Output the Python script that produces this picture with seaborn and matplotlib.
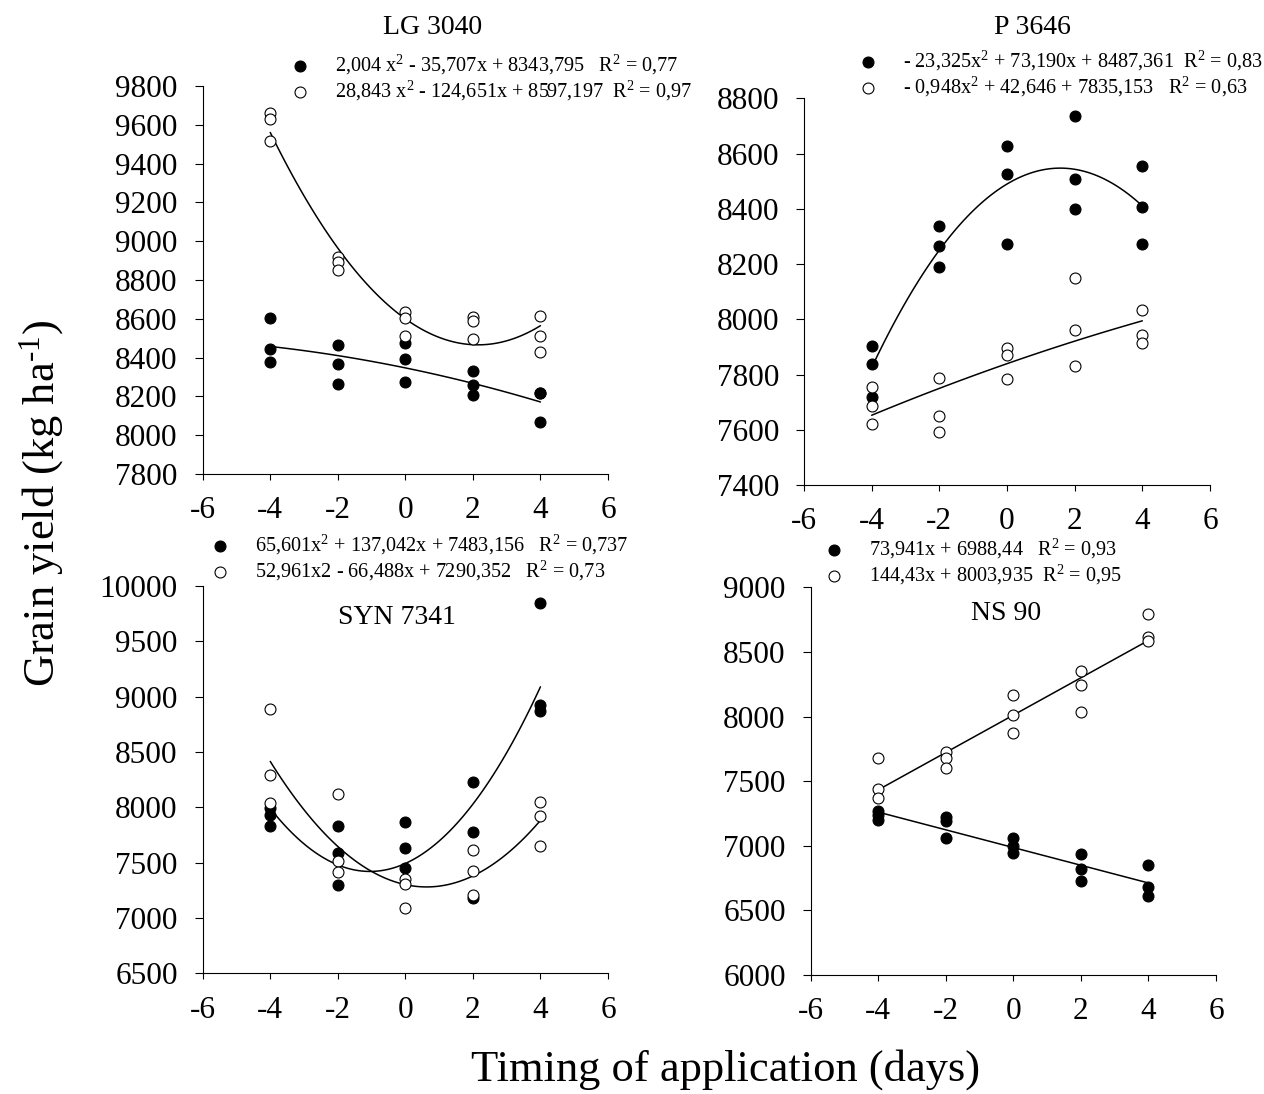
import numpy as np
import pandas as pd
import matplotlib
matplotlib.use('Agg')
import matplotlib.pyplot as plt
import seaborn as sns

sns.set_theme(style='ticks')
plt.rcParams['font.family'] = ['Liberation Serif', 'DejaVu Serif']
plt.rcParams['mathtext.default'] = 'regular'
plt.rcParams['axes.unicode_minus'] = False
plt.rcParams['text.color'] = 'black'

# timing of application (days)
timing = [-4, -2, 0, 2, 4]

# grain yield (kg/ha), three replicates per timing; filled = first series, open = second series
lg_filled = [[8602, 8443, 8376], [8467, 8368, 8264], [8477, 8394, 8274],
             [8332, 8257, 8206], [8219, 8215, 8066]]
lg_open = [[9659, 9628, 9518], [8917, 8894, 8851], [8635, 8606, 8511],
           [8611, 8589, 8494], [8614, 8511, 8429]]

p_filled = [[7904, 7839, 7718], [8338, 8266, 8189], [8628, 8526, 8272],
            [8736, 8507, 8401], [8554, 8406, 8271]]
p_open = [[7755, 7687, 7620], [7788, 7651, 7591], [7895, 7870, 7784],
          [8148, 7960, 7832], [8033, 7942, 7914]]

syn_filled = [[7990, 7931, 7831], [7831, 7590, 7298], [7870, 7630, 7449],
              [8226, 7774, 7178], [9843, 8925, 8874]]
syn_open = [[8886, 8289, 8042], [8118, 7515, 7413], [7349, 7304, 7093],
            [7614, 7422, 7208], [8048, 7922, 7651]]

ns_filled = [[7266, 7240, 7196], [7222, 7188, 7060], [7060, 6995, 6944],
             [6936, 6822, 6727], [6848, 6681, 6609]]
ns_open = [[7678, 7436, 7366], [7722, 7678, 7603], [8165, 8013, 7871],
           [8351, 8245, 8036], [8796, 8619, 8585]]

titles = ['LG 3040', 'P 3646', 'SYN 7341', 'NS 90']

lg_labels = ['2,004 x$^2$ - 35,707x + 8343,795   R$^2$ = 0,77',
             '28,843 x$^2$ - 124,651x + 8597,197  R$^2$ = 0,97']
p_labels = ['- 23,325x$^2$ + 73,190x + 8487,361  R$^2$ = 0,83',
            '- 0,948x$^2$ + 42,646 + 7835,153   R$^2$ = 0,63']
syn_labels = ['65,601x$^2$ + 137,042x + 7483,156   R$^2$ = 0,737',
              '52,961x2 - 66,488x + 7290,352   R$^2$ = 0,73']
ns_labels = ['73,941x + 6988,44   R$^2$ = 0,93',
             '144,43x + 8003,935  R$^2$ = 0,95']

W, H = 1264, 1094


def long_table(values):
    xs, ys = [], []
    for t, reps in zip(timing, values):
        for v in reps:
            xs.append(t)
            ys.append(v)
    return pd.DataFrame({'timing': xs, 'yield': ys})


def fig_rect(left, top, right, bottom):
    return [left / W, 1 - bottom / H, (right - left) / W, (bottom - top) / H]


panels = [
    dict(filled=lg_filled, open=lg_open, labels=lg_labels, order=(2, 2),
         ylim=(7800, 9800), step=200, rect=fig_rect(202.7, 86, 608, 474),
         leg=(290, 53), title=(433, 28)),
    dict(filled=p_filled, open=p_open, labels=p_labels, order=(2, 2),
         ylim=(7400, 8800), step=200, rect=fig_rect(804, 98.3, 1210, 485),
         leg=(858, 49), title=(1032, 28)),
    dict(filled=syn_filled, open=syn_open, labels=syn_labels, order=(2, 2),
         ylim=(6500, 10000), step=500, rect=fig_rect(202.7, 586, 608, 973.3),
         leg=(210, 533), title=(397, 617)),
    dict(filled=ns_filled, open=ns_open, labels=ns_labels, order=(1, 1),
         ylim=(6000, 9000), step=500, rect=fig_rect(810.7, 587.3, 1216, 975),
         leg=(824, 537), title=(1006, 614)),
]

fig = plt.figure(figsize=(W / 100, H / 100), dpi=100)

for p, title in zip(panels, titles):
    ax = fig.add_axes(p['rect'])
    series = [(p['filled'], 'black', p['labels'][0], p['order'][0]),
              (p['open'], 'white', p['labels'][1], p['order'][1])]
    for vals, face, lab, order in series:
        sns.regplot(data=long_table(vals), x='timing', y='yield', order=order,
                    ci=None, ax=ax, color='black', label=lab,
                    scatter_kws=dict(s=62, facecolors=face, edgecolors='black',
                                     linewidths=0.8, alpha=1, zorder=3),
                    line_kws=dict(lw=1.1, color='black', zorder=2))
    ax.set(xlabel='', ylabel='')
    ax.set_xlim(-6, 6)
    ax.set_xticks(range(-6, 7, 2))
    ax.set_ylim(*p['ylim'])
    ax.set_yticks(np.arange(p['ylim'][0], p['ylim'][1] + 1, p['step']))
    sns.despine(ax=ax)
    for s in ['left', 'bottom']:
        ax.spines[s].set_linewidth(0.8)
        ax.spines[s].set_color('black')
    ax.tick_params(axis='both', labelsize=22.5, colors='black', width=0.8,
                   direction='out', pad=12)
    ax.tick_params(axis='y', length=6)
    ax.tick_params(axis='x', length=4)
    leg = ax.legend(loc='upper left',
                    bbox_to_anchor=(p['leg'][0] / W, 1 - p['leg'][1] / H),
                    bbox_transform=fig.transFigure, frameon=False, fontsize=14.6,
                    borderpad=0, borderaxespad=0, handlelength=1.0,
                    handletextpad=1.2, labelspacing=0.1, markerscale=1.0)
    for t in leg.get_texts():
        t.set_color('black')
    fig.text(p['title'][0] / W, 1 - p['title'][1] / H, title, fontsize=20,
             ha='center', va='center', color='black')

fig.text(42 / W, 1 - 503 / H, 'Grain yield (kg ha$^{\u2010' + '1}$)', fontsize=32,
         rotation=90, ha='center', va='center', color='black')
fig.text(726 / W, 1 - 1070 / H, 'Timing of application (days)', fontsize=32,
         ha='center', va='center', color='black')

fig.savefig('out.png', dpi=100)
